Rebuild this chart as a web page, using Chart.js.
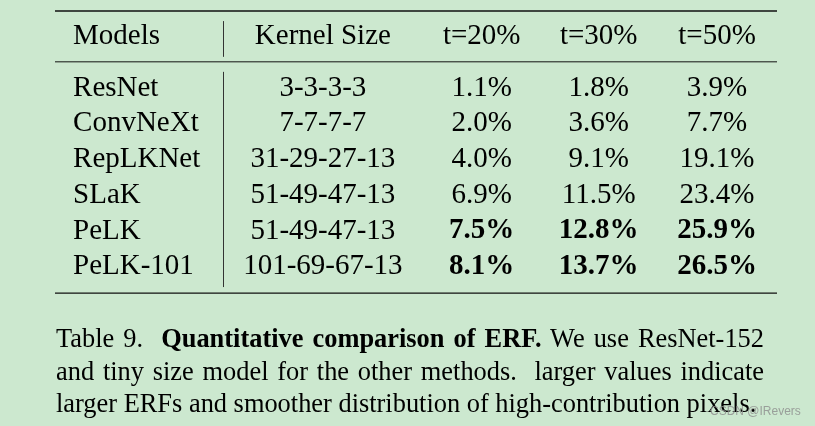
<!DOCTYPE html>
<html>
<head>
<meta charset="utf-8">
<script src="https://cdn.jsdelivr.net/npm/chart.js@4.4.1/dist/chart.umd.min.js"></script>
<style>
  html, body { margin: 0; padding: 0; background: #cce8cf; }
  #wrap { position: relative; width: 815px; height: 426px; overflow: hidden; }
  #caption {
    position: absolute; left: 56px; top: 322px; width: 708px;
    font-family: "Liberation Serif", "Times New Roman", serif;
    font-size: 26.4px; line-height: 32.5px; color: #000;
  }
  #caption div { text-align: justify; text-align-last: justify; white-space: nowrap; }
  #caption div.last { text-align-last: left; }
  #mark {
    position: absolute; left: 710px; top: 404px; white-space: nowrap;
    font-family: "Liberation Sans", Arial, sans-serif; font-size: 12px; color: rgba(140,140,140,0.8);
  }
</style>
</head>
<body>
<div id="wrap">
  <canvas id="tabela" width="815" height="426"></canvas>
  <div id="caption">
    <div>Table 9.&nbsp; <b>Quantitative comparison of ERF.</b> We use ResNet-152</div>
    <div>and tiny size model for the other methods.&nbsp; larger values indicate</div>
    <div class="last">larger ERFs and smoother distribution of high-contribution pixels.</div>
  </div>
  <div id="mark">CSDN @IRevers</div>
</div>
<script>
const headers = ['Models', 'Kernel Size', 't=20%', 't=30%', 't=50%']
const models = ['ResNet', 'ConvNeXt', 'RepLKNet', 'SLaK', 'PeLK', 'PeLK-101']
const kernelSizes = ['3-3-3-3', '7-7-7-7', '31-29-27-13', '51-49-47-13', '51-49-47-13', '101-69-67-13']
const erf20 = [1.1, 2.0, 4.0, 6.9, 7.5, 8.1]
const erf30 = [1.8, 3.6, 9.1, 11.5, 12.8, 13.7]
const erf50 = [3.9, 7.7, 19.1, 23.4, 25.9, 26.5]
const boldRows = [4, 5] // PeLK e PeLK-101 em negrito

// posicoes das colunas (fracao da largura da tabela) e das linhas
const colX = [0.025, 0.371, 0.591, 0.753, 0.917]
const headerY = 0
const firstRowY = 1.43

const fmt = v => v.toFixed(1) + '%'
const colunas = [models, kernelSizes, erf20.map(fmt), erf30.map(fmt), erf50.map(fmt)]

const datasets = colunas.map((textos, c) => ({
    label: headers[c],
    textos: [headers[c]].concat(textos),
    data: [{ x: colX[c], y: headerY }].concat(textos.map((t, i) => ({ x: colX[c], y: firstRowY + i }))),
    pointRadius: 0,
    pointHoverRadius: 0
}))

const tabelaPlugin = {
    id: 'tabela',
    afterDatasetsDraw(chart) {
        const ctx = chart.ctx
        const x = chart.scales.x
        const y = chart.scales.y
        ctx.save()
        // linhas horizontais
        ctx.strokeStyle = '#111'
        const regua = (v, w) => {
            ctx.lineWidth = w
            ctx.beginPath()
            ctx.moveTo(x.left, y.getPixelForValue(v))
            ctx.lineTo(x.right, y.getPixelForValue(v))
            ctx.stroke()
        }
        regua(-0.72, 1.4)
        regua(0.70, 1)
        regua(7.17, 1.4)
        // linha vertical
        ctx.strokeStyle = '#333'
        ctx.lineWidth = 1
        const vx = Math.round(x.getPixelForValue(0.233)) + 0.5
        ctx.beginPath()
        ctx.moveTo(vx, y.getPixelForValue(-0.44))
        ctx.lineTo(vx, y.getPixelForValue(0.56))
        ctx.moveTo(vx, y.getPixelForValue(0.98))
        ctx.lineTo(vx, y.getPixelForValue(7.0))
        ctx.stroke()
        // textos das celulas
        ctx.fillStyle = '#000'
        ctx.textBaseline = 'middle'
        chart.data.datasets.forEach((ds, c) => {
            const meta = chart.getDatasetMeta(c)
            meta.data.forEach((pt, i) => {
                const bold = c >= 2 && boldRows.includes(i - 1)
                ctx.font = (bold ? 'bold ' : '') + '29px "Liberation Serif", serif'
                ctx.textAlign = c === 0 ? 'left' : 'center'
                ctx.fillText(ds.textos[i], pt.x, pt.y)
            })
        })
        ctx.restore()
    }
}

new Chart(document.getElementById('tabela'), {
    type: 'scatter',
    data: { datasets: datasets },
    options: {
        responsive: false,
        animation: false,
        events: [],
        layout: { padding: { left: 55, right: 38, top: 10, bottom: 130 } },
        scales: {
            x: { type: 'linear', min: 0, max: 1, display: false },
            y: { type: 'linear', min: -0.75, max: 7.25, reverse: true, display: false }
        },
        plugins: {
            legend: { display: false },
            tooltip: { enabled: false }
        }
    },
    plugins: [tabelaPlugin]
})
</script>
</body>
</html>
